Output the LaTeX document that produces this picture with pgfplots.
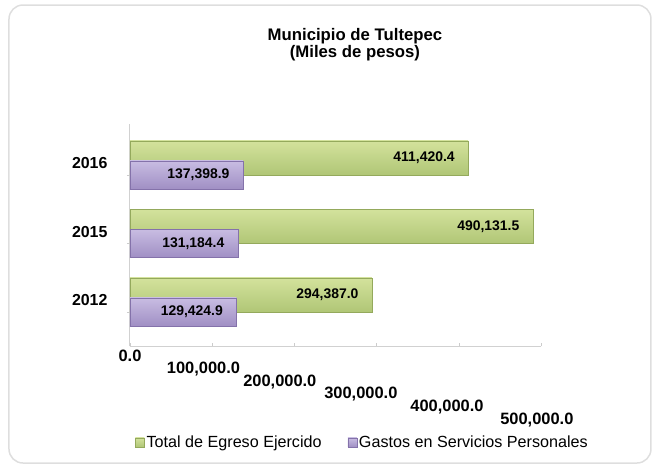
\documentclass[border=0pt]{standalone}
\usepackage{pgfplots}
\pgfplotsset{compat=1.18}
\usepackage{fontspec}
\setmainfont{Liberation Sans}
\definecolor{gTop}{HTML}{D3E29C}
\definecolor{gMid}{HTML}{EEF5CE}
\definecolor{gBot}{HTML}{B0C676}
\definecolor{gLine}{HTML}{94A95C}
\definecolor{pTop}{HTML}{C8BCE2}
\definecolor{pMid}{HTML}{DDD5EF}
\definecolor{pBot}{HTML}{A08FC4}
\definecolor{pLine}{HTML}{8472AA}
\pgfplotsset{
  gbar/.style={draw=gLine, top color=gTop, middle color=gMid, bottom color=gBot, bar width=0.5},
  pbar/.style={draw=pLine, top color=pTop, middle color=pMid, bottom color=pBot, bar width=0.41},
}
\begin{document}
\begin{tikzpicture}
\begin{axis}[
  scale only axis,
  width=411bp, height=222.6bp,
  xmin=0, xmax=500000, ymin=-0.5, ymax=2.75,
  xbar, bar shift=0pt, clip=false,
  axis x line*=bottom, axis y line*=left,
  axis line style={black!18, line width=1bp},
  tick style={black!20}, major tick length=3bp,
  scaled x ticks=false,
  xtick={0,100000,200000,300000,400000,500000},
  xticklabel={\pgfmathsetlengthmacro\myy{-12.6*\ticknum}\pgfmathsetlengthmacro\myx{-16*sin(33*\ticknum)}\kern\myx\raisebox{\myy}[\height][\depth]{\pgfmathprintnumber{\tick}}\kern-\myx},
  xticklabel style={font=\fontsize{16.5}{18}\selectfont\bfseries,
    /pgf/number format/.cd, fixed, fixed zerofill, precision=1, 1000 sep={,}, assume math mode=true},
  ytick={0,1,2}, yticklabels={2012,2015,2016},
  yticklabel style={font=\fontsize{16}{18}\selectfont\bfseries, yshift=12bp, xshift=-16bp},
  nodes near coords, point meta=explicit symbolic,
  every node near coord/.append style={font=\fontsize{14}{16}\selectfont\bfseries, anchor=east, xshift=-10bp, black},
  legend style={at={(0.5657,-0.432)}, anchor=center, draw=none, fill=none,
    font=\fontsize{16.2}{18}\selectfont, legend columns=2,
    /tikz/every even column/.append style={column sep=24bp}},
  legend image code/.code={\path[#1] (0bp,-4.5bp) rectangle (9bp,4.5bp);},
]
\draw[rounded corners=14bp, color=black!13, line width=1.5bp] (rel axis cs:-0.2944,-0.5245) rectangle (rel axis cs:1.2676,1.5330);
\coordinate (pagebl) at (rel axis cs:-0.3163,-0.5469);
\coordinate (pagetr) at (rel axis cs:1.2847,1.5555);
\node[font=\fontsize{16.8}{17}\selectfont\bfseries, align=center] at (rel axis cs:0.5474,1.3533) {Municipio de Tultepec\\(Miles de pesos)};
\addplot[gbar] table[x=x, y=y, meta=lab, row sep=\\] {x y lab\\ 294387.0 0.25 294,387.0\\};
\addlegendentry{Total de Egreso Ejercido}
\addplot[gbar, forget plot] table[x=x, y=y, meta=lab, row sep=\\] {x y lab\\ 490131.5 1.25 490,131.5\\};
\addplot[gbar, forget plot] table[x=x, y=y, meta=lab, row sep=\\] {x y lab\\ 411420.4 2.25 411,420.4\\};
\addplot[pbar] table[x=x, y=y, meta=lab, row sep=\\] {x y lab\\ 129424.9 0 129,424.9\\};
\addlegendentry{Gastos en Servicios Personales}
\addplot[pbar, forget plot] table[x=x, y=y, meta=lab, row sep=\\] {x y lab\\ 131184.4 1 131,184.4\\};
\addplot[pbar, forget plot] table[x=x, y=y, meta=lab, row sep=\\] {x y lab\\ 137398.9 2 137,398.9\\};
\end{axis}
\pgfresetboundingbox
\useasboundingbox (pagebl) rectangle (pagetr);
\end{tikzpicture}
\end{document}
